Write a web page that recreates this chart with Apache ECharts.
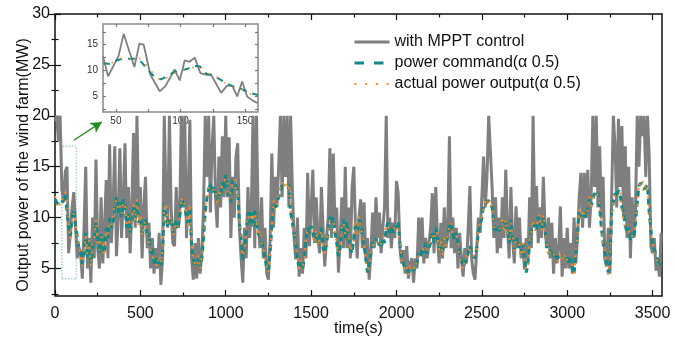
<!DOCTYPE html>
<html>
<head>
<meta charset="utf-8">
<script src="https://cdn.jsdelivr.net/npm/echarts@6/dist/echarts.min.js"></script>
<style>html,body{margin:0;padding:0;background:#fff}#c{width:676px;height:341px}</style>
</head>
<body>
<div id="c"></div>
<script>
// ---- data (sampled every 10 s from t = 0) ----
const timeStep = 10;
const mpptPower = [
19.5,20,17.5,20,12.8,11.5,14.5,15,6.5,8.5,
11,12.5,9.3,6,7.1,6.5,4,9,15,5,
8,3.6,10,6,15.7,7,5,12,5.5,9,
13.7,6,17.2,7.5,11,17,6.2,10,16.8,8,
12,17.3,8,13,6.5,11,18.3,9,20,10,
13,6,11,14,7,9.5,5,8,4.5,7,
5,8.5,3.4,6,20,12,9,20,11,7.5,
7.2,13,9,10,20,11,20,8,12,19.6,
6,3.9,7.5,4,8,4.5,6.5,11,20,14,
20,10.5,17,20,12,9,16,11,18,12,
20,12,17.9,8,14,10,16,17.3,9,6,
3.6,9,6,13,8,11,20,7,20,10,
7,12,6,9,4.5,3.9,8,16.3,9,14,
11,15,20,12,20,14,20,11,20,13,
8,5.9,10,4.2,7,4.5,9,6,14.4,7.2,
11,14.7,7.5,12,8,6.5,13,9,5.2,8,
10,16.8,8,16.3,9,11,4.6,8,12,7,
15,7,11,6,13,15,9,6,10,11.8,
7,11.5,5.9,8,3.9,6.5,10.5,7,12,8,
10.5,6.5,9,11,20,8,10,7,9.5,8,
13.6,12.4,7,5.5,6.8,4.5,7.2,4,5.5,6,
3.6,6,5,10,6.5,10,5.5,8,6,7.5,
9,12.4,6.5,13,8,5.5,9.5,6,11,7,
8.5,18,7,10,6.5,9,5,8.5,6,4.2,
7,5.5,9,13.1,6,4.5,3.9,7,10,8.5,
12,16,11,14,20,20,13,8,12,6.5,
10,7,12,8,14.7,9,6,13,8,5.5,
11.1,7,10,6,7.5,4.9,8,6,12,7,
20,9,13.1,7.5,11,8,14,9,7,10,
6,9.5,4.5,8,5.5,7,11.1,4.2,8,5,
9,5,7.5,4.5,10,5.5,8,12,14.4,9,
14.4,10,14.7,9,12,20,13,20,11,17,
10,14,6,5.2,9,4.5,12,20,17,11,
19.7,13,19,10,17,8,15,6,12,8,
11,20,15,20,18,20,14,20,16,7.2,
6.5,8,4.8,6,4.2,8.5
];
const powerCommand = [
11.8,11.5,11.3,11.4,11.4,11.9,12.3,12.3,9,8.2,
9.8,10.8,9.3,8.2,7,6.6,5.5,6.5,8.5,6,
7.5,5.5,7,8,9.5,8,6.5,8.5,7.2,6.5,
9,8,10,9,9.5,11,12,10.5,11.5,10,
11.8,11,9,10.5,8.5,9.5,11,10,11.5,9.5,
10,8.5,9,10,8,8.5,6.5,7,5.5,6,
5.5,6,5.2,6.5,11.4,11.3,9,10,9.8,8.5,
8.5,9.8,8.8,10,11.8,11.5,11.1,10,9.5,11,
7.2,6,5.2,5.5,6,5.2,5.9,8,10.5,12,
12.8,13.4,12.4,13,12.5,11.5,12.5,12,13.5,12.8,
14.2,13,12,11.5,13.7,13.5,13.1,12.5,9.5,8,
5.9,7.2,8.5,10.5,9.5,10.5,9,10.8,9.5,8.5,
8.5,7.8,6.9,6,5,4.8,6.5,9.2,11.4,11,
11.5,12,12.5,13.2,13.2,13.2,13.3,13.2,10.5,9.5,
8.5,7.5,5.9,5,5.5,4.9,6,7.8,9,8.5,
9.2,8.5,7.8,8.5,7.5,8,9,7,6.5,7.5,
8.5,10.1,9.5,10,8.5,7.5,6.2,7,9,9.8,
8,9.5,8,7,6.5,8,9.5,8.5,9.8,9.5,
9.5,7.2,6,4.6,5.5,6.5,7.5,7.5,8,7.2,
7.5,7,8,7.5,9,9.5,8.5,9,8.5,9.2,
9,9.5,7.5,6,5.5,5,4.8,4.6,5.2,5,
4.8,5.2,5.5,6.5,6,7,6.5,7.5,6.5,7,
7.5,8.5,7.5,9,8,7,7.5,6.5,8,7.5,
8,9.5,9.2,8.5,7.8,8.5,7.5,6.5,5.9,5.2,
5.5,6,6.5,7.2,6.5,6.5,6,7,8.5,9.2,
10,11.1,11.3,11.5,11.7,11.3,11,9.5,8.5,9,
8.5,9.5,9.8,8.8,9.5,8.5,7.5,9.8,8,6.9,
7.5,8,7,6.5,7.5,5.9,4.6,5.5,7.5,9,
9.5,9,8.8,10.1,10,9,10,8.8,7.2,6.5,
6.5,6.9,6.2,6.5,6,5.9,6.2,5.9,6.2,6,
6.2,5.5,6,5,4.4,6.5,8.5,10.5,10.1,10.5,
10.5,10,11,11.8,11.1,11.8,12.4,12.1,12.4,11,
9,7.5,6.5,5.5,4.6,5.5,10.5,11.5,12.4,12,
12.7,12.2,11,10.5,9.2,8.5,9,7.8,8.5,8,
9.5,11.5,13.1,13.4,13.3,12.8,13,13.2,10.5,8.8,
7.2,6.9,6.2,5.9,5.2,5.5
];
const actualPower = [
12.1,11.2,11.6,11.2,11.7,12.0,12.5,12.0,9.5,7.9,
9.5,10.5,9.7,7.8,7.3,6.3,5.2,6.9,8.2,6.4,
7.8,5.2,7.4,7.7,9.8,7.6,6.8,8.2,7.5,6.2,
8.7,8.4,9.6,9.3,9.2,11.4,11.7,10.8,11.2,10.4,
11.5,11.3,9.4,10.2,8.8,9.2,11.3,9.7,11.8,9.2,
10.3,8.2,9.3,9.7,8.3,8.2,6.8,6.7,5.8,5.7,
5.2,6.3,5.5,6.8,11.1,11.5,9.3,9.7,10.1,8.2,
8.8,9.5,9.1,9.7,12.0,11.2,11.4,10.3,9.2,11.3,
7.5,5.7,5.5,5.2,6.3,4.9,6.2,7.7,10.8,11.7,
13.1,13.1,12.7,12.7,12.8,11.2,12.8,12.3,13.2,13.1,
13.9,13.3,11.7,11.8,13.4,13.8,12.8,12.2,9.8,7.7,
6.2,6.9,8.8,10.2,9.8,10.2,9.3,10.5,9.8,8.2,
8.8,7.5,7.2,5.7,5.3,4.6,6.8,8.9,11.7,10.7,
11.2,12.3,12.2,13.5,12.9,13.4,13.0,13.4,10.8,9.2,
8.8,7.2,6.2,4.7,5.8,5.2,5.7,8.1,8.7,8.8,
8.9,8.8,7.5,8.8,7.2,8.3,8.7,7.3,6.2,7.8,
8.8,9.8,9.8,9.7,8.8,7.2,6.5,6.7,9.3,9.5,
8.3,9.2,8.3,6.7,6.8,7.7,9.8,8.2,10.1,9.2,
9.2,7.5,5.7,4.9,5.2,6.8,7.2,7.8,7.7,7.5,
7.2,7.3,7.7,7.8,9.3,9.2,8.8,8.7,8.8,8.9,
9.3,9.2,7.8,5.7,5.8,4.7,5.1,4.4,5.5,4.7,
5.1,4.9,5.8,6.2,6.3,6.7,6.8,7.2,6.8,6.7,
7.8,8.2,7.8,8.7,8.3,6.7,7.8,6.2,8.3,7.2,
8.3,9.2,9.5,8.2,8.1,8.2,7.8,6.2,6.2,4.9,
5.8,5.7,6.8,6.9,6.8,6.2,6.3,6.7,8.8,8.9,
10.3,10.8,11.6,11.2,11.9,11.0,11.3,9.2,8.8,8.7,
8.8,9.2,10.1,8.5,9.8,8.2,7.8,9.5,8.3,6.6,
7.8,7.7,7.3,6.2,7.8,5.6,4.9,5.2,7.8,8.7,
9.8,8.7,9.1,9.8,10.3,8.7,10.3,8.5,7.5,6.2,
6.8,6.6,6.5,6.2,6.3,5.6,6.5,5.6,6.5,5.7,
5.9,5.8,5.7,5.3,4.2,6.8,8.2,10.8,9.8,10.8,
10.2,10.3,10.7,12.1,10.8,12.1,12.1,12.4,12.1,11.3,
9.3,7.2,6.8,5.2,4.4,5.8,10.2,11.8,12.1,12.3,
12.4,12.5,10.7,10.8,8.9,8.8,8.7,8.1,8.2,8.3,
9.8,11.2,13.4,13.1,13.6,12.5,13.3,12.9,10.8,8.5,
7.5,6.6,6.5,5.6,5.5,5.2
];
// inset (zoom of 40-160 s)
const insetMpptTime = [40,43.9,52,56,64.3,68.2,71.5,76.7,83.9,88.3,95.5,99.4,103.3,107,111,115.4,119.8,123.7,131.5,136,140,143.9,147.7,151.6,156,160];
const insetMpptPower = [12.8,8.9,12.8,17.1,10.7,15.2,15,9.2,6,7,10.2,8.1,12,11.7,12.5,9.5,9.2,9.2,5.7,7.1,7.1,5,7.9,5,4.2,3.7];
const insetCmdTime = [40,45,50,55,60,65,70,75,80,85,90,95,100,105,110,115,120,125,130,135,140,145,150,155,160];
const insetCommand = [11.4,11.3,11.9,12.3,12.3,12.3,11.6,10,8.8,8.3,9,9.7,10,10.3,10.9,10.8,9.4,9.1,8.4,7.6,7,6.7,6.1,5.6,5.3];
const insetActual  = [11.6,11.2,12.0,12.4,12.2,12.4,12.3,10.6,9.2,8.0,8.7,9.4,10.1,10.2,10.6,10.9,9.6,9.0,8.6,7.5,6.9,6.8,6.0,5.4,4.6];

// axes / ticks
const xRange = [0, 3555];
const yRange = [2.3, 30];
const xMajorTicks = [0,500,1000,1500,2000,2500,3000,3500];
const xMinorTicks = [250,750,1250,1750,2250,2750,3250];
const yMajorTicks = [5,10,15,20,25,30];
const yMinorTicks = [2.5,7.5,12.5,17.5,22.5,27.5];
const insetXRange = [40, 160];
const insetYRange = [2, 19];
const insetXLabels = [50,100,150];
const insetXTicks = [50,75,100,125,150];
const insetYLabels = [5,10,15];
const insetYTicks = [2.5,5,7.5,10,12.5,15,17.5];
// annotations (data units)
const zoomBoxFrom = [40, 4];
const zoomBoxTo = [125, 17];
const arrowFrom = [111, 17.6];
const arrowTo = [274, 19.4];

const names = ['with MPPT control', 'power command(\u03b1 0.5)', 'actual power output(\u03b1 0.5)'];
const FONT = 'Liberation Sans, Arial, Helvetica, sans-serif';
const GRAY = '#7f7f7f', TEAL = '#128a8a', ORANGE = '#ff8a1c';

const pair = (arr) => arr.map((v, i) => [i * timeStep, v]);
const pairT = (ts, vs) => vs.map((v, i) => [ts[i], v]);
const plain = (v) => String(v);

function xAx(grid, pos, ticks, len, labels, extra) {
  return Object.assign({
    type: 'value', gridIndex: grid, position: pos,
    min: grid === 0 ? xRange[0] : insetXRange[0],
    max: grid === 0 ? xRange[1] : insetXRange[1],
    axisLine: { show: false }, splitLine: { show: false },
    axisTick: { show: true, inside: true, length: len, customValues: ticks,
      lineStyle: { color: grid === 0 ? '#111' : '#777', width: 1.2 } },
    axisLabel: labels ? labels : { show: false }
  }, extra || {});
}
function yAx(grid, pos, ticks, len, labels, extra) {
  return Object.assign({
    type: 'value', gridIndex: grid, position: pos,
    min: grid === 0 ? yRange[0] : insetYRange[0],
    max: grid === 0 ? yRange[1] : insetYRange[1],
    axisLine: { show: false }, splitLine: { show: false },
    axisTick: { show: true, inside: true, length: len, customValues: ticks,
      lineStyle: { color: grid === 0 ? '#111' : '#777', width: 1.2 } },
    axisLabel: labels ? labels : { show: false }
  }, extra || {});
}

const mainXLabel = { show: true, customValues: xMajorTicks, formatter: plain, fontSize: 16, color: '#111', fontFamily: FONT, margin: 10 };
const mainYLabel = { show: true, customValues: yMajorTicks, formatter: plain, fontSize: 16, color: '#111', fontFamily: FONT, margin: 5 };
const inXLabel = { show: true, customValues: insetXLabels, formatter: plain, fontSize: 10, color: '#333', fontFamily: FONT, margin: 4 };
const inYLabel = { show: true, customValues: insetYLabels, formatter: plain, fontSize: 10, color: '#333', fontFamily: FONT, margin: 5 };

const chart = echarts.init(document.getElementById('c'), null, { renderer: 'canvas' });
chart.setOption({
  animation: false,
  backgroundColor: '#fff',
  grid: [
    { left: 55, top: 14, right: 14, bottom: 45, show: true, borderColor: '#111', borderWidth: 1.5, backgroundColor: 'transparent',
      containLabel: false, outerBoundsMode: 'none' },
    { left: 103, top: 24, width: 155, height: 88, show: true, borderColor: '#888', borderWidth: 1.5, backgroundColor: '#fff',
      containLabel: false, outerBoundsMode: 'none' }
  ],
  xAxis: [
    xAx(0, 'bottom', xMajorTicks, 6, mainXLabel, { name: 'time(s)', nameLocation: 'middle', nameGap: 25, nameMoveOverlap: false,
      nameTextStyle: { fontSize: 16, color: '#111', fontFamily: FONT } }),
    xAx(0, 'bottom', xMinorTicks, 3.5),
    xAx(0, 'top', xMajorTicks, 6),
    xAx(0, 'top', xMinorTicks, 3.5),
    xAx(1, 'bottom', insetXTicks, 3, inXLabel),
    xAx(1, 'top', insetXTicks, 3)
  ],
  yAxis: [
    yAx(0, 'left', yMajorTicks, 6, mainYLabel, { name: 'Output power of the wind farm(MW)', nameLocation: 'middle', nameGap: 23, nameMoveOverlap: false,
      nameTextStyle: { fontSize: 16, color: '#111', fontFamily: FONT, padding: [0, 20, 0, 0] } }),
    yAx(0, 'left', yMinorTicks, 3.5),
    yAx(0, 'right', yMajorTicks, 6),
    yAx(0, 'right', yMinorTicks, 3.5),
    yAx(1, 'left', insetYTicks, 3, inYLabel),
    yAx(1, 'right', insetYTicks, 3)
  ],
  legend: {
    data: [
      { name: names[0], lineStyle: { width: 3 } },
      { name: names[1], lineStyle: { width: 3, type: [9.5, 10] } },
      { name: names[2], lineStyle: { width: 2, type: [2, 8.7] } }
    ],
    orient: 'vertical', left: 353, top: 34, padding: 0, itemWidth: 35, itemHeight: 14, itemGap: 5,
    itemStyle: { opacity: 0 },
    textStyle: { fontSize: 16, color: '#111', fontFamily: FONT }
  },
  series: [
    { name: names[0], type: 'line', xAxisIndex: 0, yAxisIndex: 0, data: pair(mpptPower), showSymbol: false, symbol: 'none',
      lineStyle: { color: GRAY, width: 3 }, itemStyle: { color: GRAY }, z: 2,
      markArea: { silent: true, itemStyle: { color: 'rgba(0,0,0,0)', borderColor: '#9fd3d3', borderWidth: 1.5, borderType: 'dotted' },
        data: [[{ coord: zoomBoxFrom }, { coord: zoomBoxTo }]] },
      markLine: { silent: true, symbol: ['none', 'arrow'], symbolSize: [9, 11], label: { show: false },
        lineStyle: { color: '#1f8c1f', width: 1.3, type: 'solid' },
        data: [[{ coord: arrowFrom }, { coord: arrowTo }]] } },
    { name: names[1], type: 'line', xAxisIndex: 0, yAxisIndex: 0, data: pair(powerCommand), showSymbol: false, symbol: 'none',
      lineStyle: { color: TEAL, width: 3, type: [6, 4] }, itemStyle: { color: TEAL }, z: 3 },
    { name: names[2], type: 'line', xAxisIndex: 0, yAxisIndex: 0, data: pair(actualPower), showSymbol: false, symbol: 'none',
      lineStyle: { color: ORANGE, width: 2, type: [2, 6] }, itemStyle: { color: ORANGE }, z: 4 },
    { name: 'inset1', type: 'line', xAxisIndex: 4, yAxisIndex: 4, data: pairT(insetMpptTime, insetMpptPower), showSymbol: false, symbol: 'none',
      lineStyle: { color: GRAY, width: 1.8 }, z: 5 },
    { name: 'inset2', type: 'line', xAxisIndex: 4, yAxisIndex: 4, data: pairT(insetCmdTime, insetCommand), showSymbol: false, symbol: 'none',
      lineStyle: { color: TEAL, width: 2, type: [7, 6] }, z: 6 },
    { name: 'inset3', type: 'line', xAxisIndex: 4, yAxisIndex: 4, data: pairT(insetCmdTime, insetActual), showSymbol: false, symbol: 'none',
      lineStyle: { color: ORANGE, width: 1.6, type: [1.5, 8] }, z: 7 }
  ]
});
</script>
</body>
</html>
